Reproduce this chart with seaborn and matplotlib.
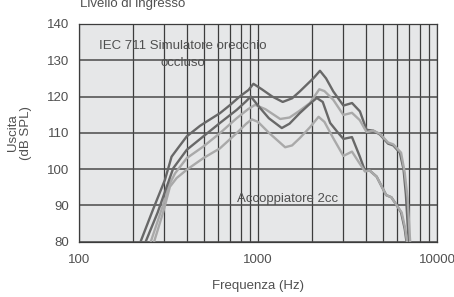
import numpy as np
import pandas as pd
import seaborn as sns
import matplotlib
matplotlib.use("Agg")
import matplotlib.pyplot as plt
from matplotlib.ticker import LogLocator, FixedLocator, NullFormatter

# curve data (frequency in Hz, level in dB SPL)
dark_hi_f = [221, 260, 302, 329, 360, 400, 474, 517, 613, 700, 791, 885, 943, 1050, 1200,
             1374, 1550, 1712, 2045, 2219, 2400, 2634, 3000, 3353, 3710, 4040, 4400, 4800,
             5330, 5700, 6200, 6500, 6700, 6850, 6950]
dark_hi_v = [80, 89, 97, 103.4, 106, 109, 111.9, 113.1, 115.4, 117.7, 120, 121.8, 123.5, 122, 120,
             118.5, 119.5, 121.4, 125.1, 127.1, 125, 121.4, 117.5, 118.2, 115.9, 110.8, 110.6, 109.5,
             107, 106.5, 104.5, 100, 93, 85, 80]

light_hi_f = [252, 290, 322, 344, 400, 495, 613, 760, 880, 963, 1100, 1330, 1500, 1700, 1950,
              2200, 2350, 2633, 3000, 3350, 3700, 4040, 4400, 4800, 5330, 5700, 6300, 6600,
              6850, 7000, 7080]
light_hi_v = [80, 89, 96, 98.8, 103, 106.2, 109.9, 114, 116.5, 117.7, 116.5, 113.8, 114.2, 116, 118.2,
              122, 121.5, 119.1, 114.9, 115.5, 113.5, 110.2, 110.6, 109.7, 107.3, 106.8, 104.5, 99,
              92, 84, 80]

dark_lo_f = [236, 275, 309, 336, 400, 495, 613, 760, 850, 912, 1000, 1150, 1358, 1500, 1710,
             1950, 2130, 2300, 2530, 2800, 3000, 3350, 3700, 3960, 4200, 4600, 5200, 5560,
             6100, 6300, 6600, 6750]
dark_lo_v = [80, 88, 95.1, 100.2, 105.3, 109, 112.7, 116.3, 118.5, 120, 117.5, 114, 111.3, 112.5, 115.4,
             118, 119.6, 118.5, 112.7, 110, 108.3, 108.8, 103.5, 99.5, 99.6, 97.9, 92.8, 92.2,
             89.2, 88, 83.5, 80]

light_lo_f = [263, 295, 322, 351, 400, 495, 613, 760, 860, 923, 1000, 1150, 1418, 1550, 1710,
              1950, 2180, 2350, 2633, 3000, 3350, 3700, 3960, 4200, 4600, 5200, 5560, 6100,
              6350, 6650, 6800]
light_lo_v = [80, 88, 95.1, 97.5, 99.8, 103, 105.7, 109.9, 112.5, 113.7, 113, 110, 106, 106.5, 108.5,
              111.5, 114.4, 113, 108.5, 103.6, 104.8, 101.5, 99.3, 99.6, 97.9, 92.8, 92.2, 89.2,
              88, 83.5, 80]

curve_names = ["dark_hi", "light_hi", "dark_lo", "light_lo"]
curve_colors = {"dark_hi": "#686868", "light_hi": "#a9a9a9",
                "dark_lo": "#686868", "light_lo": "#a9a9a9"}

frames = []
for name, f, v in zip(curve_names,
                      [dark_hi_f, light_hi_f, dark_lo_f, light_lo_f],
                      [dark_hi_v, light_hi_v, dark_lo_v, light_lo_v]):
    frames.append(pd.DataFrame({"freq": f, "level": v, "curve": name}))
df = pd.concat(frames, ignore_index=True)

sns.set_style("white")
plt.rcParams["font.family"] = ["Liberation Sans", "DejaVu Sans"]
text_col = "#505050"
fs = 9.5

fig = plt.figure(figsize=(4.54, 2.97), dpi=100)
ax = fig.add_axes([79 / 454, 1 - 241.5 / 297, (437 - 79) / 454, (241.5 - 24) / 297])
ax.set_facecolor("#e6e7e8")

ax.set_xscale("log")
ax.set_xlim(100, 10000)
ax.set_ylim(80, 140)
ax.xaxis.set_major_locator(FixedLocator([100, 1000, 10000]))
ax.xaxis.set_minor_locator(LogLocator(base=10, subs=range(2, 10)))
ax.xaxis.set_minor_formatter(NullFormatter())
ax.set_xticklabels(["100", "1000", "10000"])
ax.set_yticks(range(80, 141, 10))

ax.grid(True, which="both", axis="x", color="#3c3c3c", linewidth=0.9)
ax.grid(True, which="major", axis="y", color="#4a4a4a", linewidth=1.1)
ax.set_axisbelow(True)

sns.lineplot(data=df, x="freq", y="level", hue="curve", palette=curve_colors,
             estimator=None, sort=False, linewidth=1.7, legend=False, ax=ax)

for s in ax.spines.values():
    s.set_color("#3c3c3c")
    s.set_linewidth(0.9)

ax.tick_params(axis="both", which="both", length=0, labelsize=fs, colors=text_col)
ax.tick_params(axis="x", pad=9)
ax.tick_params(axis="y", pad=7)

ax.set_xlabel("Frequenza (Hz)", fontsize=fs, color=text_col, labelpad=10)
ax.set_ylabel("Uscita\n(dB SPL)", fontsize=fs, color=text_col, labelpad=11, linespacing=1.05)

ax.text(0.055, 0.9, "IEC 711 Simulatore orecchio", transform=ax.transAxes,
        fontsize=fs, color=text_col, ha="left", va="center")
ax.text(0.29, 0.822, "occluso", transform=ax.transAxes,
        fontsize=fs, color=text_col, ha="center", va="center")
ax.text(0.44, 0.196, "Accoppiatore 2cc", transform=ax.transAxes,
        fontsize=fs, color=text_col, ha="left", va="center")

fig.text(80 / 454, 1 - 7 / 297, "Livello di ingresso", fontsize=fs, color=text_col,
         ha="left", va="baseline")

fig.savefig("out.png", dpi=100)
